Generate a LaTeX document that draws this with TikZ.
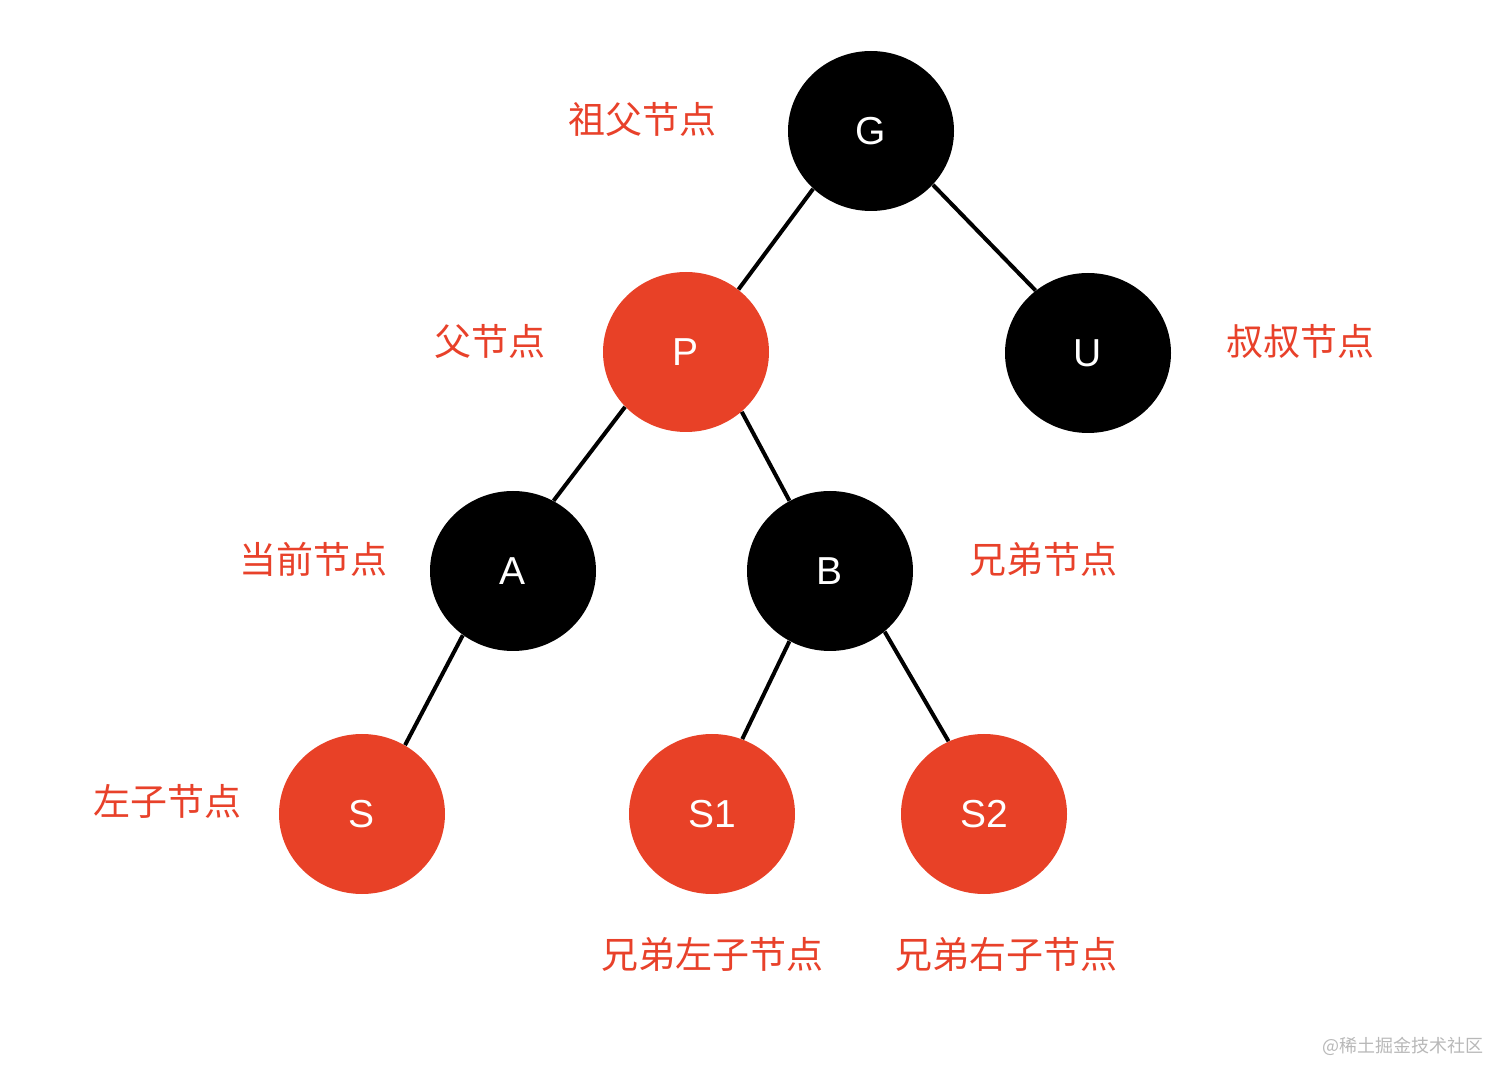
\documentclass[tikz,border=0pt]{standalone}
\usepackage{fontspec}
\setmainfont{Liberation Sans}
\newfontfamily\cjk{Noto Sans CJK SC}
\usetikzlibrary{shapes.geometric}
\definecolor{nodered}{HTML}{E84127}
\definecolor{labelred}{HTML}{E8412A}
\definecolor{wmgray}{HTML}{B8B8B8}
\tikzset{
  treenode/.style={ellipse, minimum width=83pt, minimum height=80pt, inner sep=0pt,
    text=white, font=\fontsize{19.5pt}{22pt}\selectfont},
  blacknode/.style={treenode, fill=black},
  rednode/.style={treenode, fill=nodered},
  lbl/.style={text=labelred, font=\cjk\fontsize{18.5pt}{22pt}\selectfont, inner sep=0pt},
  edge/.style={line width=2pt, black}
}
\begin{document}
\begin{tikzpicture}[x=0.5pt, y=-0.5pt]
\useasboundingbox (0,0) rectangle (1512,1085);
\node[blacknode] (G) at (871,131) {G};
\node[rednode] (P) at (686,352) {P};
\node[blacknode] (U) at (1088,353) {U};
\node[blacknode] (A) at (513,571) {A};
\node[blacknode] (B) at (830,571) {B};
\node[rednode] (S) at (362,814) {S};
\node[rednode] (S1) at (712,814) {S1};
\node[rednode] (S2) at (984,814) {S2};
\draw[edge] (G.-135) -- (P.50.5);
\draw[edge] (G.-41) -- (U.130);
\draw[edge] (P.-138.5) -- (A.60);
\draw[edge] (P.-47.5) -- (B.120);
\draw[edge] (A.-128) -- (S.58.5);
\draw[edge] (B.-120) -- (S1.68);
\draw[edge] (B.-48.5) -- (S2.116.6);
\node[lbl] (lG) at (642,119) {祖父节点};
\node[lbl] (lP) at (490,341) {父节点};
\node[lbl] (lU) at (1300,341) {叔叔节点};
\node[lbl] (lA) at (313,559) {当前节点};
\node[lbl] (lB) at (1043,559) {兄弟节点};
\node[lbl] (lS) at (167,801) {左子节点};
\node[lbl] (lS1) at (712,954) {兄弟左子节点};
\node[lbl] (lS2) at (1006,954) {兄弟右子节点};
\node[text=wmgray, font=\cjk\fontsize{9pt}{11pt}\selectfont, inner sep=0pt] (wm) at (1403,1046) {@稀土掘金技术社区};
\end{tikzpicture}
\end{document}
